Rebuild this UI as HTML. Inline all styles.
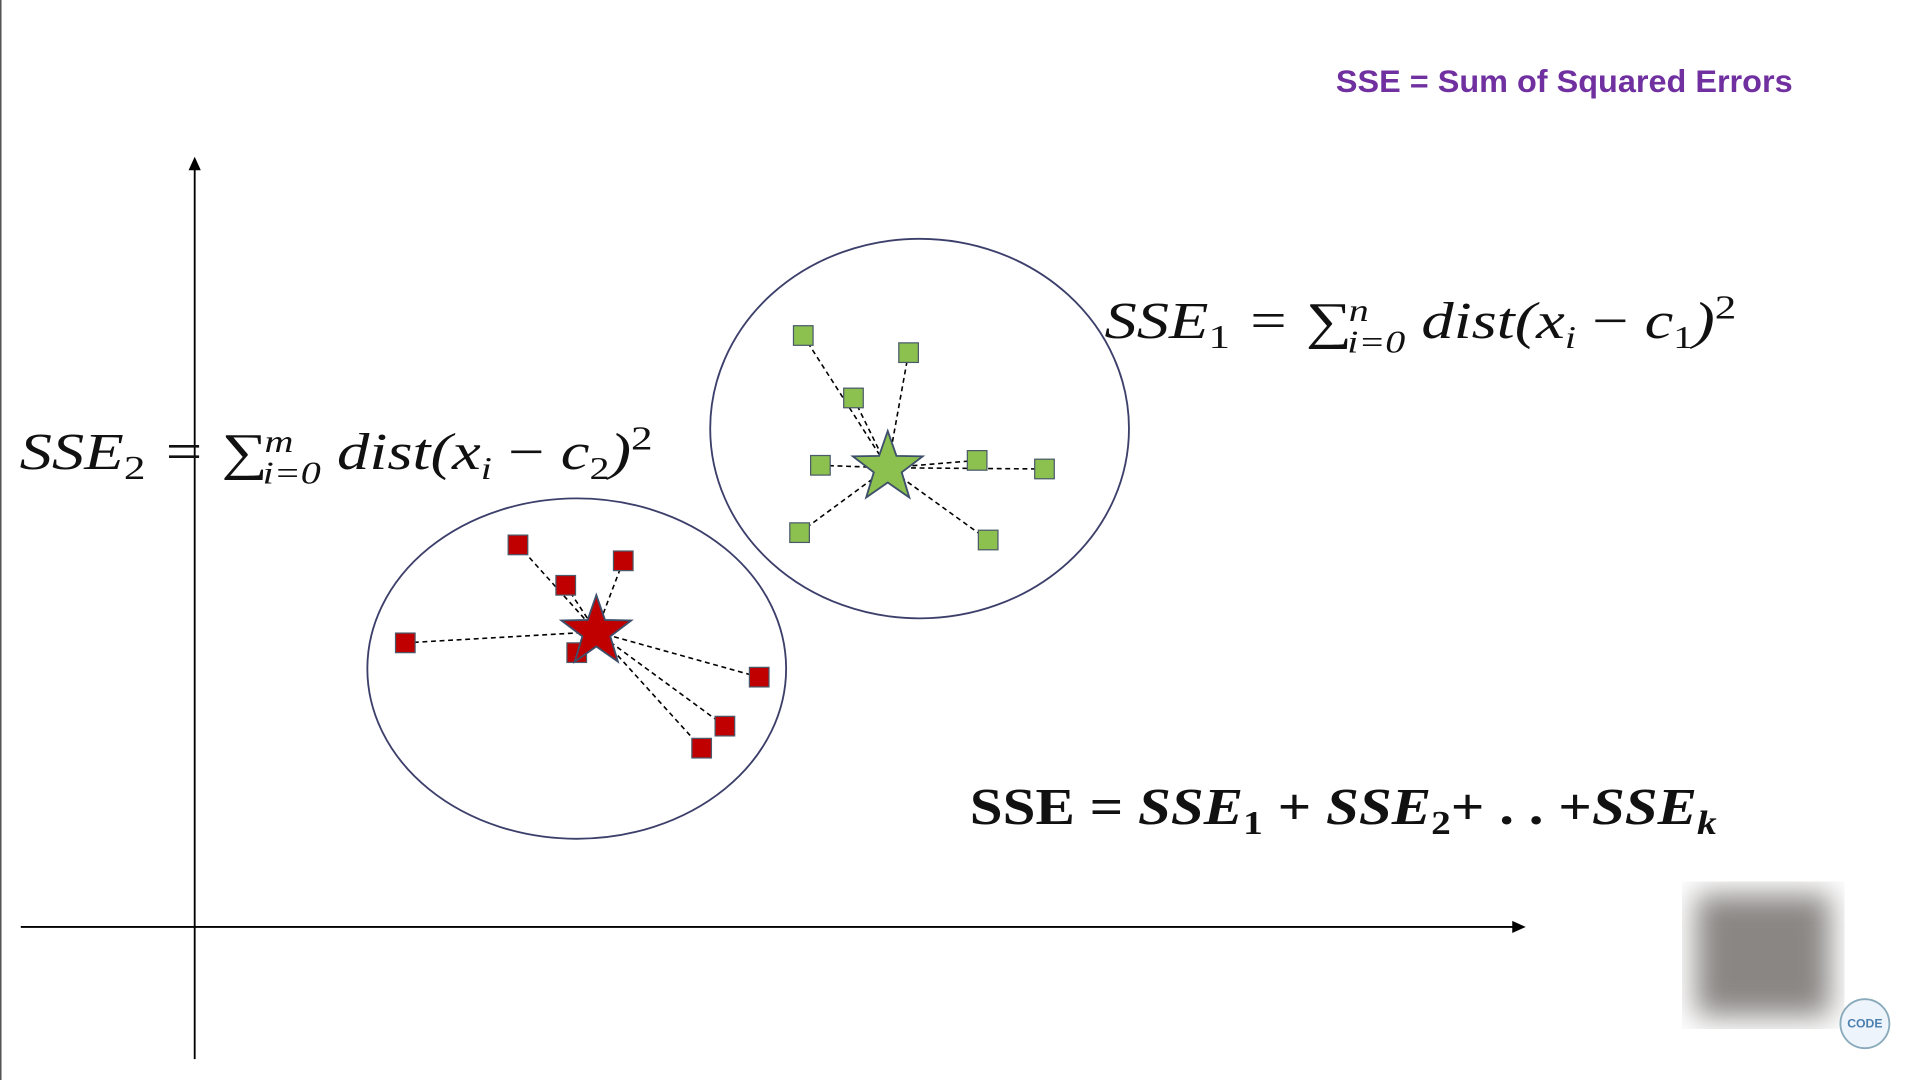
<!DOCTYPE html>
<html><head><meta charset="utf-8"><style>
html,body{margin:0;padding:0;background:#fff;width:1920px;height:1080px;overflow:hidden}
svg{display:block}
.f{font-family:"Liberation Serif",serif;font-style:italic;fill:#111}
</style></head><body>
<svg id="chart" width="1920" height="1080" viewBox="0 0 1568 882" preserveAspectRatio="none">
<defs><filter id="bl"><feGaussianBlur stdDeviation="12"/></filter></defs>
<line x1="0.5" y1="0" x2="0.5" y2="882" stroke="#555" stroke-width="1.5"/>
<text x="1091" y="75" font-family="Liberation Sans, sans-serif" font-size="26" font-weight="bold" fill="#7030a0" textLength="373" lengthAdjust="spacingAndGlyphs">SSE = Sum of Squared Errors</text>
<line x1="159" y1="865" x2="159" y2="136" stroke="#000" stroke-width="1.5"/>
<polygon points="159,128 154,139 164,139" fill="#000"/>
<line x1="17" y1="757" x2="1238" y2="757" stroke="#000" stroke-width="1.5"/>
<polygon points="1246,757 1235,752 1235,762" fill="#000"/>
<ellipse cx="751" cy="350" rx="171" ry="155" fill="none" stroke="#3d3f6b" stroke-width="1.5"/>
<ellipse cx="471" cy="546" rx="171" ry="139" fill="none" stroke="#3d3f6b" stroke-width="1.5"/>
<g id="marks"></g>
<text class="f" x="902" y="276" font-size="42" textLength="516" lengthAdjust="spacingAndGlyphs">SSE<tspan font-size="28" dy="8" font-style="normal">1</tspan><tspan dy="-8"> = ∑</tspan><tspan font-size="26" dx="-2" dy="-14">n</tspan><tspan font-size="26" dx="-14" dy="26">i=0</tspan><tspan dy="-12"> dist(x</tspan><tspan font-size="26" dy="8">i</tspan><tspan dy="-8" font-style="normal"> − </tspan><tspan>c</tspan><tspan font-size="26" dy="8" font-style="normal">1</tspan><tspan dy="-8">)</tspan><tspan font-size="28" dy="-16" font-style="normal">2</tspan></text>
<text class="f" x="16" y="383" font-size="42" textLength="517" lengthAdjust="spacingAndGlyphs">SSE<tspan font-size="28" dy="8" font-style="normal">2</tspan><tspan dy="-8"> = ∑</tspan><tspan font-size="26" dx="-2" dy="-14">m</tspan><tspan font-size="26" dx="-20" dy="26">i=0</tspan><tspan dy="-12"> dist(x</tspan><tspan font-size="26" dy="8">i</tspan><tspan dy="-8" font-style="normal"> − </tspan><tspan>c</tspan><tspan font-size="26" dy="8" font-style="normal">2</tspan><tspan dy="-8">)</tspan><tspan font-size="28" dy="-16" font-style="normal">2</tspan></text>
<text class="f" x="792" y="673" font-size="42" font-weight="bold" textLength="610" lengthAdjust="spacingAndGlyphs"><tspan font-style="normal">SSE =  </tspan>SSE<tspan font-size="28" dy="8" font-style="normal">1</tspan><tspan dy="-8" font-style="normal"> + </tspan>SSE<tspan font-size="28" dy="8" font-style="normal">2</tspan><tspan dy="-8" font-style="normal">+ . . +</tspan>SSE<tspan font-size="28" dy="8">k</tspan></text>
<rect x="1385" y="730" width="110" height="100" fill="#8a8684" filter="url(#bl)"/>
<circle cx="1523" cy="836" r="20" fill="#eef4fb" stroke="#8ab" stroke-width="1.5"/>
<text x="1523" y="839" font-family="Liberation Sans, sans-serif" font-size="10" font-weight="bold" fill="#4a7fb0" text-anchor="middle">CODE</text>
</svg>
<script>
const greenX=[497,583,538,511,639,694,494,648];
const greenY=[483,469,432,377,381,374,322,316];
const greenC=[566,375];
const redX=[264,350,303,172,312,461,433,414];
const redY=[312,299,279,232,224,204,164,146];
const redC=[328,241];
const xS=v=>159+v, yS=v=>757-v;
const g=document.getElementById('marks');
const NS='http://www.w3.org/2000/svg';
function star(cx,cy,R,r){let p=[];for(let i=0;i<10;i++){const a=-Math.PI/2+i*Math.PI/5,rr=i%2?r:R;p.push((cx+rr*Math.cos(a)).toFixed(1)+','+(cy+rr*Math.sin(a)).toFixed(1));}return p.join(' ');}
function cluster(xs,ys,c,fill,name){
  const cx=xS(c[0]),cy=yS(c[1]);
  xs.forEach((x,i)=>{const l=document.createElementNS(NS,'line');
    l.setAttribute('x1',xS(x));l.setAttribute('y1',yS(ys[i]));l.setAttribute('x2',cx);l.setAttribute('y2',cy);
    l.setAttribute('stroke','#000');l.setAttribute('stroke-dasharray','4,3');l.setAttribute('stroke-width','1.3');
    
    
    g.appendChild(l);});
  xs.forEach((x,i)=>{const r=document.createElementNS(NS,'rect');
    r.setAttribute('x',xS(x)-8);r.setAttribute('y',yS(ys[i])-8);r.setAttribute('width',16);r.setAttribute('height',16);
    r.setAttribute('fill',fill);r.setAttribute('stroke','#4a5a6a');r.setAttribute('stroke-width','1');
    
    
    g.appendChild(r);});
  const s=document.createElementNS(NS,'polygon');
  s.setAttribute('points',star(cx,cy,30,12));s.setAttribute('fill',fill);s.setAttribute('stroke','#3d4f6b');s.setAttribute('stroke-width','1.5');
  
  
  g.appendChild(s);
}
cluster(greenX,greenY,greenC,'#8cc04f','cluster-1');
cluster(redX,redY,redC,'#c00000','cluster-2');
</script>
</body></html>
